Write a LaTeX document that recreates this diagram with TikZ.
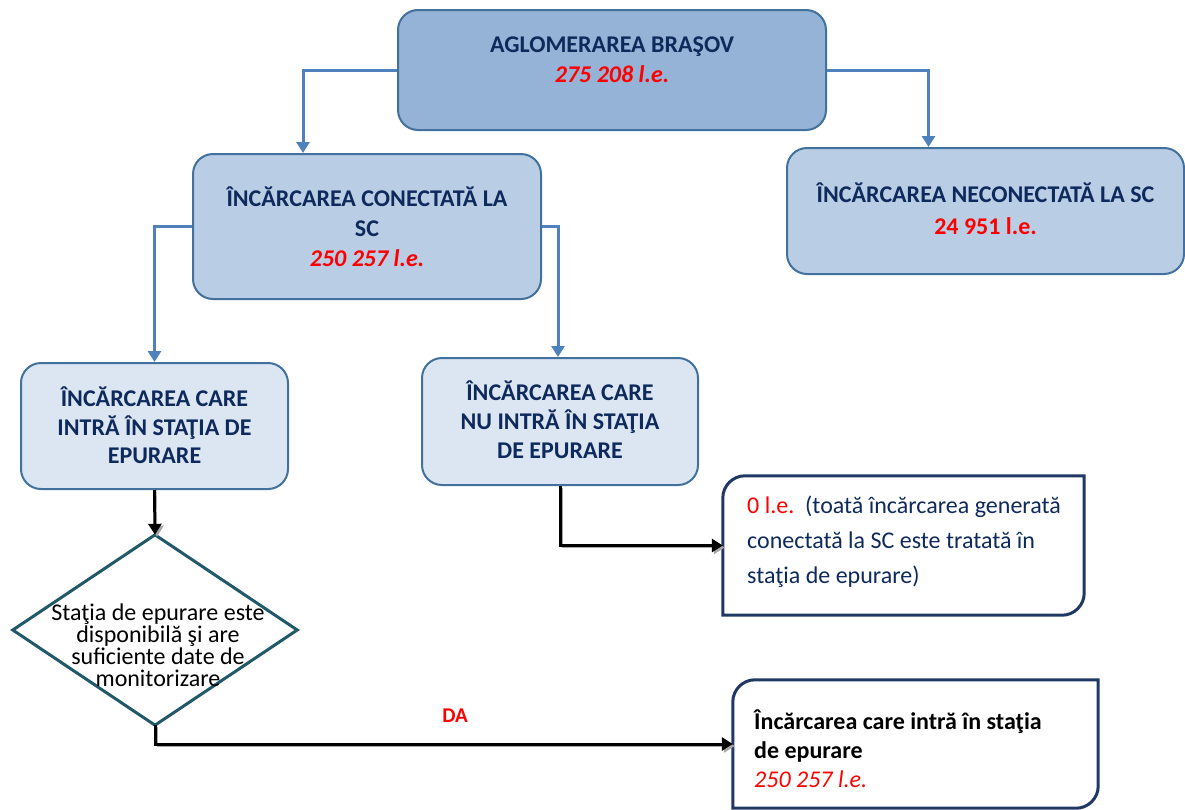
\documentclass[tikz,border=0pt]{standalone}
\usepackage{fontspec}
\setmainfont{Carlito}
\usetikzlibrary{arrows.meta,shapes.geometric}
\definecolor{bordblue}{HTML}{41719C}
\definecolor{fillA}{HTML}{95B3D7}
\definecolor{fillB}{HTML}{B9CDE5}
\definecolor{fillC}{HTML}{DCE6F2}
\definecolor{navytxt}{HTML}{0E2A5C}
\definecolor{arrblue}{HTML}{4F81BD}
\definecolor{diateal}{HTML}{215968}
\definecolor{darknavy}{HTML}{1F3864}
\begin{document}
\begin{tikzpicture}[x=1pt,y=-1pt,
 box/.style={draw=bordblue, line width=2pt, rounded corners=20pt, inner sep=0pt},
 boxtxt/.style={align=center, text=navytxt, inner sep=0pt, font=\bfseries\fontsize{24}{30}\selectfont},
 shapeonly/.style={inner sep=0pt, draw=none},
 barrow/.style={draw=arrblue, line width=3pt, -{Triangle[width=13pt,length=11pt]}},
 karrow/.style={draw=black, line width=3pt, -{Triangle[width=13pt,length=11pt]},
   preaction={draw=black!35, transform canvas={shift={(2,2)}}}},
 twocorner/.style={draw=darknavy, line width=3pt}
]
\useasboundingbox (0,0) rectangle (1185,809);

% boxes
\node[box, fill=fillA, minimum width=428pt, minimum height=120pt] (top) at (612,70) {};
\node[boxtxt] (toptxt) at (612,60) {AGLOMERAREA BRAŞOV\\\textcolor{red}{\itshape 275 208 l.e.}};

\node[box, fill=fillB, minimum width=348pt, minimum height=145pt] (conn) at (367,226.5) {};
\node[boxtxt] (conntxt) at (367,227) {ÎNCĂRCAREA CONECTATĂ LA\\SC\\\textcolor{red}{\itshape 250 257 l.e.}};

\node[box, fill=fillB, minimum width=397pt, minimum height=126pt] (neconn) at (985.5,211) {};
\node[boxtxt, font=\bfseries\fontsize{24}{32}\selectfont] (neconntxt) at (985.5,209) {ÎNCĂRCAREA NECONECTATĂ LA SC\\\textcolor{red}{24 951 l.e.}};

\node[box, fill=fillC, minimum width=267pt, minimum height=126pt] (intra) at (154.5,426) {};
\node[boxtxt, font=\bfseries\fontsize{24}{28.5}\selectfont] (intratxt) at (154.5,425.5) {ÎNCĂRCAREA CARE\\INTRĂ ÎN STAŢIA DE\\EPURARE};

\node[box, fill=fillC, minimum width=276pt, minimum height=127pt] (nuintra) at (560,421.5) {};
\node[boxtxt, font=\bfseries\fontsize{24}{29}\selectfont] (nuintratxt) at (560,420) {ÎNCĂRCAREA CARE\\NU INTRĂ ÎN STAŢIA\\DE EPURARE};

% box with two rounded corners (top left, bottom right): zero load
\node[shapeonly, minimum width=361pt, minimum height=139pt] (zero) at (903.5,545.5) {};
\draw[twocorner]
  (zero.south west) -- ([yshift=-22pt]zero.north west)
  .. controls ([yshift=-10pt]zero.north west) and ([xshift=10pt]zero.north west) .. ([xshift=22pt]zero.north west)
  -- (zero.north east) -- ([yshift=22pt]zero.south east)
  .. controls ([yshift=10pt]zero.south east) and ([xshift=-10pt]zero.south east) .. ([xshift=-22pt]zero.south east) -- cycle;
\node[anchor=north west, align=left, inner sep=0pt, text=navytxt,
      font=\fontsize{24}{35}\selectfont] (zerotxt) at (747,496)
  {\textcolor{red}{0 l.e.}\ \ (toată încărcarea generată\\conectată la SC este tratată în\\staţia de epurare)};

\node[shapeonly, minimum width=365pt, minimum height=128pt] (final) at (915.5,744) {};
\draw[twocorner]
  (final.south west) -- ([yshift=-22pt]final.north west)
  .. controls ([yshift=-10pt]final.north west) and ([xshift=10pt]final.north west) .. ([xshift=22pt]final.north west)
  -- (final.north east) -- ([yshift=22pt]final.south east)
  .. controls ([yshift=10pt]final.south east) and ([xshift=-10pt]final.south east) .. ([xshift=-22pt]final.south east) -- cycle;
\node[anchor=north west, align=left, inner sep=0pt, text=black,
      font=\bfseries\fontsize{24}{29}\selectfont] (finaltxt) at (754,710)
  {Încărcarea care intră în staţia\\de epurare\\\textcolor{red}{\mdseries\itshape 250 257 l.e.}};

% diamond
\node[shapeonly, minimum width=284pt, minimum height=190pt] (dia) at (155,630) {};
\draw[draw=diateal, line width=3pt] (dia.north) -- (dia.east) -- (dia.south) -- (dia.west) -- cycle;
\node[align=center, inner sep=0pt, text=black, font=\fontsize{24}{22}\selectfont] (diatxt) at (158,645)
  {Staţia de epurare este\\disponibilă şi are\\suficiente date de\\monitorizare};

% connectors
\draw[barrow] (top.west) -| ([xshift=-64pt]conn.north);
\draw[barrow] (top.east) -| ([xshift=-57pt]neconn.north);
\draw[barrow] (conn.west) -| (intra.north);
\draw[barrow] (conn.east) -| ([xshift=-2pt]nuintra.north);
\draw[karrow] (intra.south) -- (dia.north);
\draw[karrow] (nuintra.south) |- (zero.west);
\draw[karrow] (dia.south) |- (final.west);

\node[text=red, font=\bfseries\fontsize{21}{24}\selectfont, inner sep=0pt] (da) at (455,716) {DA};
\end{tikzpicture}
\end{document}
